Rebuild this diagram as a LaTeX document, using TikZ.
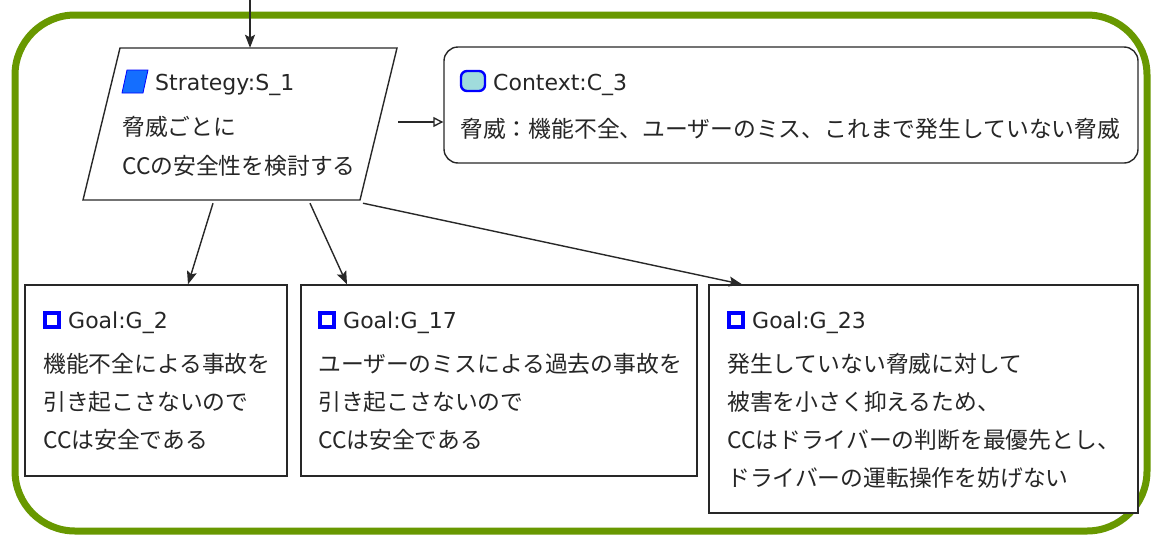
\documentclass[tikz,border=0pt]{standalone}
\usepackage{fontspec}
\setmainfont{Noto Sans CJK JP}
\newfontfamily\headfont{DejaVu Sans}
\usetikzlibrary{arrows.meta}
\definecolor{frameGreen}{RGB}{104,152,0}
\definecolor{lineGray}{RGB}{40,40,40}
\definecolor{iconBlue}{RGB}{0,0,255}
\definecolor{stratBlue}{RGB}{20,110,255}
\definecolor{ctxFill}{RGB}{160,220,220}
\tikzset{
  boxshape/.style={draw=lineGray, line width=1.4pt, fill=white, inner sep=0pt},
  ghost/.style={draw=none, inner sep=0pt},
  txt/.style={anchor=base west, inner sep=0pt, text=black!85, font=\fontsize{22.8}{38}\selectfont},
  htxt/.style={txt, font=\headfont\fontsize{22}{26}\selectfont},
  stxt/.style={txt, font=\fontsize{22.8}{39}\selectfont},
  conn/.style={draw=lineGray, line width=1.4pt, -{Stealth[length=13pt,width=10pt,inset=2.5pt]}},
  ctxconn/.style={draw=lineGray, line width=1.4pt, -{Triangle[open,length=10pt,width=10pt,fill=white]}},
  goalicon/.style={draw=iconBlue, line width=3.4pt, fill=white},
}
\newcommand{\mylines}[1]{\vtop{#1}}
\begin{document}
\begin{tikzpicture}[x=1pt,y=-1pt]
\useasboundingbox (0,0) rectangle (1151,536);
\clip (0,0) rectangle (1151,536);
\fill[white] (0,0) rectangle (1151,536);
% green frame
\draw[frameGreen, line width=7pt, rounded corners=60pt] (15,15) rectangle (1147,531);

% Strategy
\node[ghost, minimum width=314pt, minimum height=152pt] (S) at (240,124) {};
\draw[lineGray, line width=1.4pt, fill=white] (120,48) -- (397,48) -- (360,200) -- (83,200) -- cycle;
\draw[iconBlue, line width=0.8pt, fill=stratBlue] (127,70) -- (148,70) -- (143,93) -- (122,93) -- cycle;
\node[htxt] (Shead) at (155,90) {Strategy:S\_1};
\node[stxt] (Stext) at (122,135) {\mylines{\hbox{脅威ごとに}\hbox{CCの安全性を検討する}}};

% Context
\node[boxshape, rounded corners=14pt, minimum width=694pt, minimum height=116pt] (C) at (791,105) {};
\draw[iconBlue, line width=2.4pt, fill=ctxFill, rounded corners=6pt] (461,71) rectangle (485,91);
\node[htxt] (Chead) at (493,90) {Context:C\_3};
\node[txt] (Ctext) at (460,137) {脅威：機能不全、ユーザーのミス、これまで発生していない脅威};

% Goals
\node[boxshape, minimum width=262pt, minimum height=191pt] (G2) at (156,380.5) {};
\draw[goalicon] (45,313) rectangle (59,327);
\node[htxt] (G2head) at (68,328) {Goal:G\_2};
\node[txt] (G2text) at (43,372) {\mylines{\hbox{機能不全による事故を}\hbox{引き起こさないので}\hbox{CCは安全である}}};

\node[boxshape, minimum width=396pt, minimum height=191pt] (G17) at (499,380.5) {};
\draw[goalicon] (320,313) rectangle (334,327);
\node[htxt] (G17head) at (343,328) {Goal:G\_17};
\node[txt] (G17text) at (318,372) {\mylines{\hbox{ユーザーのミスによる過去の事故を}\hbox{引き起こさないので}\hbox{CCは安全である}}};

\node[boxshape, minimum width=429pt, minimum height=228pt] (G23) at (923.5,399) {};
\draw[goalicon] (729,313) rectangle (743,327);
\node[htxt] (G23head) at (752,328) {Goal:G\_23};
\node[txt] (G23text) at (727,372) {\mylines{\hbox{発生していない脅威に対して}\hbox{被害を小さく抑えるため、}\hbox{CCはドライバーの判断を最優先とし、}\hbox{ドライバーの運転操作を妨げない}}};

% connectors
\coordinate (in) at (250,0);
\draw[conn] (in) -- ([xshift=10pt]S.north);
\draw[ctxconn] ([xshift=1pt,yshift=2pt]S.east) -- ([yshift=-17pt]C.west);
\draw[conn] ([xshift=-27pt,yshift=-3pt]S.south) -- ([xshift=32pt]G2.north);
\draw[conn] ([xshift=70pt,yshift=-3pt]S.south) -- ([xshift=-152pt]G17.north);
\draw[conn] ([xshift=123pt,yshift=-3pt]S.south) -- ([xshift=-181.5pt]G23.north);
\end{tikzpicture}
\end{document}
